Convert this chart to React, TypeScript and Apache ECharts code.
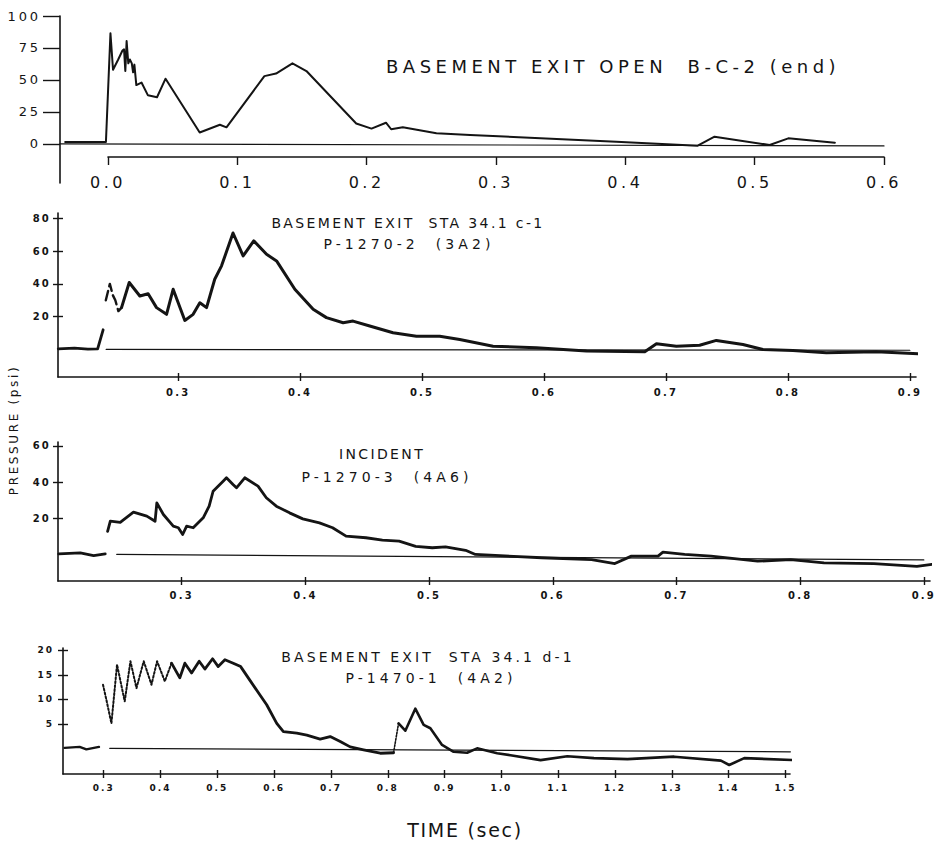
import React, { useEffect, useRef } from 'react';
import * as echarts from 'echarts';

const INK = '#141414';
const FONT = 'DejaVu Sans';

// ---------- Panel 1: BASEMENT EXIT OPEN B-C-2 (end) ----------
const p1Time = [-0.033, -0.0015, 0.002, 0.004, 0.008, 0.0113, 0.0125, 0.0135, 0.0145, 0.0158, 0.017, 0.0185, 0.0195, 0.0205, 0.022, 0.026, 0.031, 0.038, 0.0446, 0.071, 0.0866, 0.0917, 0.121, 0.13, 0.1427, 0.1535, 0.192, 0.2038, 0.215, 0.219, 0.228, 0.254, 0.28, 0.393, 0.456, 0.469, 0.5116, 0.526, 0.562];
const p1Psi = [1.5, 1.5, 86.5, 58, 66, 73, 74, 57, 80.5, 63, 66, 63, 56, 62, 46, 48, 38, 36.5, 51, 9, 15, 13, 53, 55, 63, 57, 16, 12, 16.6, 11.5, 13, 8.3, 7, 1.8, -1.3, 5.7, -0.8, 4.4, 1];
const p1BaseTime = [-0.037, 0.6];
const p1BasePsi = [0, -1.5];
const p1XTicks = [0, 0.1, 0.2, 0.3, 0.4, 0.5, 0.6];
const p1YTicks = [0, 25, 50, 75, 100];

// ---------- Panel 2: BASEMENT EXIT STA 34.1 c-1 ----------
const p2PreTime = [0.2017, 0.215, 0.226, 0.234, 0.2385];
const p2PrePsi = [0.4, 0.8, 0.2, 0.4, 12];
const p2DashTime = [0.2407, 0.244, 0.2465, 0.2485, 0.251, 0.2536];
const p2DashPsi = [30, 40, 33, 30, 23.4, 25.5];
const p2Time = [0.2536, 0.2599, 0.2686, 0.2754, 0.2823, 0.2905, 0.2959, 0.3055, 0.3123, 0.3178, 0.3233, 0.33, 0.3356, 0.345, 0.3533, 0.362, 0.3725, 0.3807, 0.3957, 0.4107, 0.4216, 0.4353, 0.4434, 0.4571, 0.4762, 0.4954, 0.5145, 0.5309, 0.5582, 0.5938, 0.6348, 0.6826, 0.6922, 0.7085, 0.7276, 0.7413, 0.7631, 0.7795, 0.8041, 0.8315, 0.8725, 0.9148];
const p2Psi = [25.5, 40.8, 32.6, 34, 25.5, 21.4, 36.7, 17.7, 21.4, 28.5, 25.5, 42.8, 51, 71, 57, 66.2, 58, 54, 36.7, 24.5, 19.4, 16.3, 17.3, 14.3, 10.2, 8.1, 8.1, 6.1, 2, 1, -1, -1.4, 3.5, 2, 2.6, 5.5, 3, 0, -0.6, -2, -1.4, -3];
const p2BaseTime = [0.241, 0.9];
const p2BasePsi = [0, -0.5];
const p2XTicks = [0.3, 0.4, 0.5, 0.6, 0.7, 0.8, 0.9];
const p2YTicks = [20, 40, 60, 80];

// ---------- Panel 3: INCIDENT ----------
const p3PreTime = [0.2006, 0.218, 0.2288, 0.2382];
const p3PrePsi = [0.6, 1.2, -0.3, 0.6];
const p3Time = [0.2401, 0.2423, 0.2503, 0.261, 0.2718, 0.2785, 0.2799, 0.2852, 0.2932, 0.2973, 0.3008, 0.304, 0.3093, 0.3174, 0.3222, 0.3254, 0.3335, 0.3362, 0.3415, 0.3443, 0.351, 0.3617, 0.3684, 0.3765, 0.3872, 0.3979, 0.4114, 0.422, 0.4329, 0.449, 0.4623, 0.4758, 0.4892, 0.5026, 0.5133, 0.5295, 0.5375, 0.5911, 0.6314, 0.6502, 0.6636, 0.6851, 0.6891, 0.7066, 0.728, 0.7656, 0.7924, 0.8193, 0.8596, 0.8944, 0.9065];
const p3Psi = [13, 18.6, 18, 23.6, 21.4, 18.6, 28.7, 22.3, 15.9, 15, 11.3, 15.9, 15, 20.5, 26.9, 35.1, 40.6, 42.5, 38.8, 37, 42.5, 37.9, 31.5, 26.9, 23.2, 19.9, 17.7, 15, 10.4, 9.5, 8.2, 7.6, 4.8, 4, 4.5, 2.6, 0.3, -1.5, -2.5, -4.7, -0.6, -0.6, 1.6, 0.3, -0.6, -3.4, -2.5, -4.3, -4.7, -6.2, -5.2];
const p3BaseTime = [0.2475, 0.9];
const p3BasePsi = [0.3, -2.7];
const p3XTicks = [0.3, 0.4, 0.5, 0.6, 0.7, 0.8, 0.9];
const p3YTicks = [20, 40, 60];

// ---------- Panel 4: BASEMENT EXIT STA 34.1 d-1 ----------
const p4PreTime = [0.2312, 0.2577, 0.2695, 0.2917];
const p4PrePsi = [0.1, 0.3, -0.2, 0.3];
const p4DotTime = [0.2988, 0.3048, 0.3136, 0.3235, 0.337, 0.3471, 0.3577, 0.3705, 0.3841, 0.394, 0.4076, 0.4194];
const p4DotPsi = [13, 9.9, 5.1, 17.1, 9.6, 17.8, 12.3, 17.8, 13, 17.8, 13.7, 17.4];
const p4MainTime = [0.4194, 0.434, 0.4429, 0.4547, 0.4681, 0.4781, 0.4917, 0.5016, 0.5134, 0.528, 0.5411, 0.5545, 0.5751, 0.5869, 0.6046, 0.6163, 0.6399, 0.6575, 0.681, 0.6987, 0.7163, 0.7339, 0.7574, 0.7868, 0.8102];
const p4MainPsi = [17.4, 14.4, 17.4, 15.4, 17.8, 16.2, 18.3, 16.7, 18.1, 17.4, 16.7, 14.4, 10.9, 8.9, 5.1, 3.4, 3.1, 2.7, 1.9, 2.4, 1.4, 0.3, -0.3, -1, -0.9];
const p4RiseTime = [0.8102, 0.819];
const p4RisePsi = [-0.9, 5.1];
const p4TailTime = [0.819, 0.8309, 0.8485, 0.8632, 0.875, 0.8956, 0.916, 0.9397, 0.9573, 0.9926, 1.016, 1.069, 1.116, 1.163, 1.222, 1.304, 1.3864, 1.401, 1.4275, 1.5157, 1.533];
const p4TailPsi = [5.1, 3.6, 8.1, 4.8, 4.1, 0.7, -0.7, -0.9, 0, -1, -1.4, -2.4, -1.6, -2, -2.2, -1.7, -2.5, -3.4, -2, -2.4, -2.4];
const p4BaseTime = [0.3106, 1.5087];
const p4BasePsi = [0, -0.7];
const p4XTicks = [0.3, 0.4, 0.5, 0.6, 0.7, 0.8, 0.9, 1.0, 1.1, 1.2, 1.3, 1.4, 1.5];
const p4YTicks = [5, 10, 15, 20];

const zip = (t: number[], v: number[]) => t.map((x, i) => [x, v[i]]);

const lineSeries = (axis: number, t: number[], v: number[], width: number, type: string = 'solid') => ({
  type: 'line',
  xAxisIndex: axis,
  yAxisIndex: axis,
  data: zip(t, v),
  showSymbol: false,
  symbol: 'none',
  clip: false,
  silent: true,
  lineStyle: { color: INK, width, type, cap: 'round', join: 'round' },
});

const fmt1 = (v: number) => v.toFixed(1);

function panelAxes(
  grid: number,
  xr: [number, number],
  xt: number[],
  yr: [number, number],
  yt: number[],
  xFont: number,
  yFont: number,
  xMargin: number,
  yMargin: number,
) {
  const tickStyle = { color: INK, width: 1.4 };
  const xAxes = [
    {
      gridIndex: grid, type: 'value', min: xr[0], max: xr[1], position: 'bottom',
      axisLine: { show: true, onZero: false, lineStyle: { color: INK, width: 1.6 } },
      axisTick: { show: true, customValues: xt, length: 4, lineStyle: tickStyle },
      axisLabel: { show: true, customValues: xt, formatter: fmt1, color: INK, fontFamily: FONT, fontSize: xFont, fontWeight: 'bold', margin: xMargin },
      splitLine: { show: false },
    },
    {
      gridIndex: grid, type: 'value', min: xr[0], max: xr[1], position: 'bottom',
      axisLine: { show: false, onZero: false },
      axisTick: { show: true, inside: true, customValues: xt, length: 4, lineStyle: tickStyle },
      axisLabel: { show: false },
      splitLine: { show: false },
    },
  ];
  const yAxes = [
    {
      gridIndex: grid, type: 'value', min: yr[0], max: yr[1], position: 'left',
      axisLine: { show: true, onZero: false, lineStyle: { color: INK, width: 1.6 } },
      axisTick: { show: true, customValues: yt, length: 5, lineStyle: tickStyle },
      axisLabel: { show: true, customValues: yt, color: INK, fontFamily: FONT, fontSize: yFont, fontWeight: 'bold', margin: yMargin },
      splitLine: { show: false },
    },
    {
      gridIndex: grid, type: 'value', min: yr[0], max: yr[1], position: 'left',
      axisLine: { show: false, onZero: false },
      axisTick: { show: true, inside: true, customValues: yt, length: 5, lineStyle: tickStyle },
      axisLabel: { show: false },
      splitLine: { show: false },
    },
  ];
  return { xAxes, yAxes };
}

const txt = (text: string, x: number, y: number, size: number, family: string, align: string = 'center', extra: any = {}) => ({
  type: 'text',
  x,
  y,
  silent: true,
  ...extra,
  style: {
    text,
    fill: INK,
    fontSize: size,
    fontFamily: family,
    fontWeight: 'normal',
    align,
    textAlign: align,
    verticalAlign: 'middle',
    textVerticalAlign: 'middle',
  },
});

export default function App() {
  const ref = useRef<HTMLDivElement>(null);

  useEffect(() => {
    document.body.style.margin = '0';
    if (!ref.current) return;
    const chart = echarts.init(ref.current, undefined, { renderer: 'svg' });

    const a2 = panelAxes(2, [0.2015, 0.905], p2XTicks, [-16.8, 83.2], p2YTicks, 10, 10, 10, 7);
    const a3 = panelAxes(3, [0.2, 0.905], p3XTicks, [-14.3, 62.2], p3YTicks, 10, 10, 9, 7);
    const a4 = panelAxes(4, [0.2284, 1.508], p4XTicks, [-5.24, 20.5], p4YTicks, 9, 9, 9, 9);

    const option: any = {
      animation: false,
      backgroundColor: '#ffffff',
      grid: [
        { left: 60, top: 16, width: 824, height: 167 },
        { left: 108, top: 100, width: 776, height: 57 },
        { left: 58, top: 213, width: 858, height: 164 },
        { left: 58, top: 442, width: 872, height: 139 },
        { left: 63, top: 648, width: 727, height: 126 },
      ],
      xAxis: [
        { gridIndex: 0, type: 'value', min: -0.037, max: 0.6, show: false, axisLine: { onZero: false }, splitLine: { show: false } },
        {
          gridIndex: 1, type: 'value', min: 0, max: 0.6, position: 'bottom',
          axisLine: { show: true, onZero: false, lineStyle: { color: INK, width: 1.6 } },
          axisTick: { show: true, customValues: p1XTicks, length: 8, lineStyle: { color: INK, width: 1.4 } },
          axisLabel: { show: true, customValues: p1XTicks, formatter: fmt1, color: INK, fontFamily: FONT, fontSize: 16, margin: 17 },
          splitLine: { show: false },
        },
        ...a2.xAxes,
        ...a3.xAxes,
        ...a4.xAxes,
      ],
      yAxis: [
        {
          gridIndex: 0, type: 'value', min: -30.5, max: 100, position: 'left',
          axisLine: { show: true, onZero: false, lineStyle: { color: INK, width: 1.6 } },
          axisTick: { show: true, customValues: p1YTicks, length: 17, lineStyle: { color: INK, width: 1.4 } },
          axisLabel: { show: true, customValues: p1YTicks, color: INK, fontFamily: FONT, fontSize: 13, margin: 19 },
          splitLine: { show: false },
        },
        { gridIndex: 1, type: 'value', min: 0, max: 1, show: false, axisLine: { onZero: false }, splitLine: { show: false } },
        ...a2.yAxes,
        ...a3.yAxes,
        ...a4.yAxes,
      ],
      series: [
        lineSeries(0, p1BaseTime, p1BasePsi, 1.2),
        lineSeries(0, p1Time, p1Psi, 2),
        lineSeries(2, p2BaseTime, p2BasePsi, 1.2),
        lineSeries(2, p2PreTime, p2PrePsi, 2.8),
        lineSeries(2, p2DashTime, p2DashPsi, 2.4, 'dashed'),
        lineSeries(2, p2Time, p2Psi, 3),
        lineSeries(4, p3BaseTime, p3BasePsi, 1.2),
        lineSeries(4, p3PreTime, p3PrePsi, 2.8),
        lineSeries(4, p3Time, p3Psi, 2.8),
        lineSeries(6, p4BaseTime, p4BasePsi, 1.2),
        lineSeries(6, p4PreTime, p4PrePsi, 2.4),
        lineSeries(6, p4DotTime, p4DotPsi, 2, 'dotted'),
        lineSeries(6, p4MainTime, p4MainPsi, 2.8),
        lineSeries(6, p4RiseTime, p4RisePsi, 1.6, 'dotted'),
        lineSeries(6, p4TailTime, p4TailPsi, 2.6),
      ],
      graphic: [
        txt('BASEMENT EXIT OPEN  B-C-2 (end)', 386, 66, 18, FONT + ', spb', 'left'),
        txt('BASEMENT EXIT  STA 34.1 c-1', 408, 223, 14, FONT + ', spa'),
        txt('P-1270-2  (3A2)', 409, 244, 14, FONT + ', spd'),
        txt('INCIDENT', 382, 454, 14, FONT + ', spa'),
        txt('P-1270-3  (4A6)', 387, 477, 14, FONT + ', spd'),
        txt('BASEMENT EXIT  STA 34.1 d-1', 428, 657, 14, FONT),
        txt('P-1470-1  (4A2)', 431, 678, 14, FONT + ', spd'),
        txt('PRESSURE (psi)', 14, 430, 12, FONT, 'center', { rotation: Math.PI / 2 }),
        txt('TIME (sec)', 465, 830, 19, FONT + ', spc'),
      ],
    };

    chart.setOption(option);
    return () => chart.dispose();
  }, []);

  return (
    <>
      <style>{`
        .cbox text { letter-spacing: 0.22em; }
        .cbox text[style*="spa"] { letter-spacing: 0.17em; }
        .cbox text[style*="spb"] { letter-spacing: 0.25em; }
        .cbox text[style*="spd"] { letter-spacing: 0.29em; }
        .cbox text[style*="spc"] { letter-spacing: 0.09em; }
      `}</style>
      <div className="cbox" ref={ref} style={{ width: 936, height: 844 }} />
    </>
  );
}
